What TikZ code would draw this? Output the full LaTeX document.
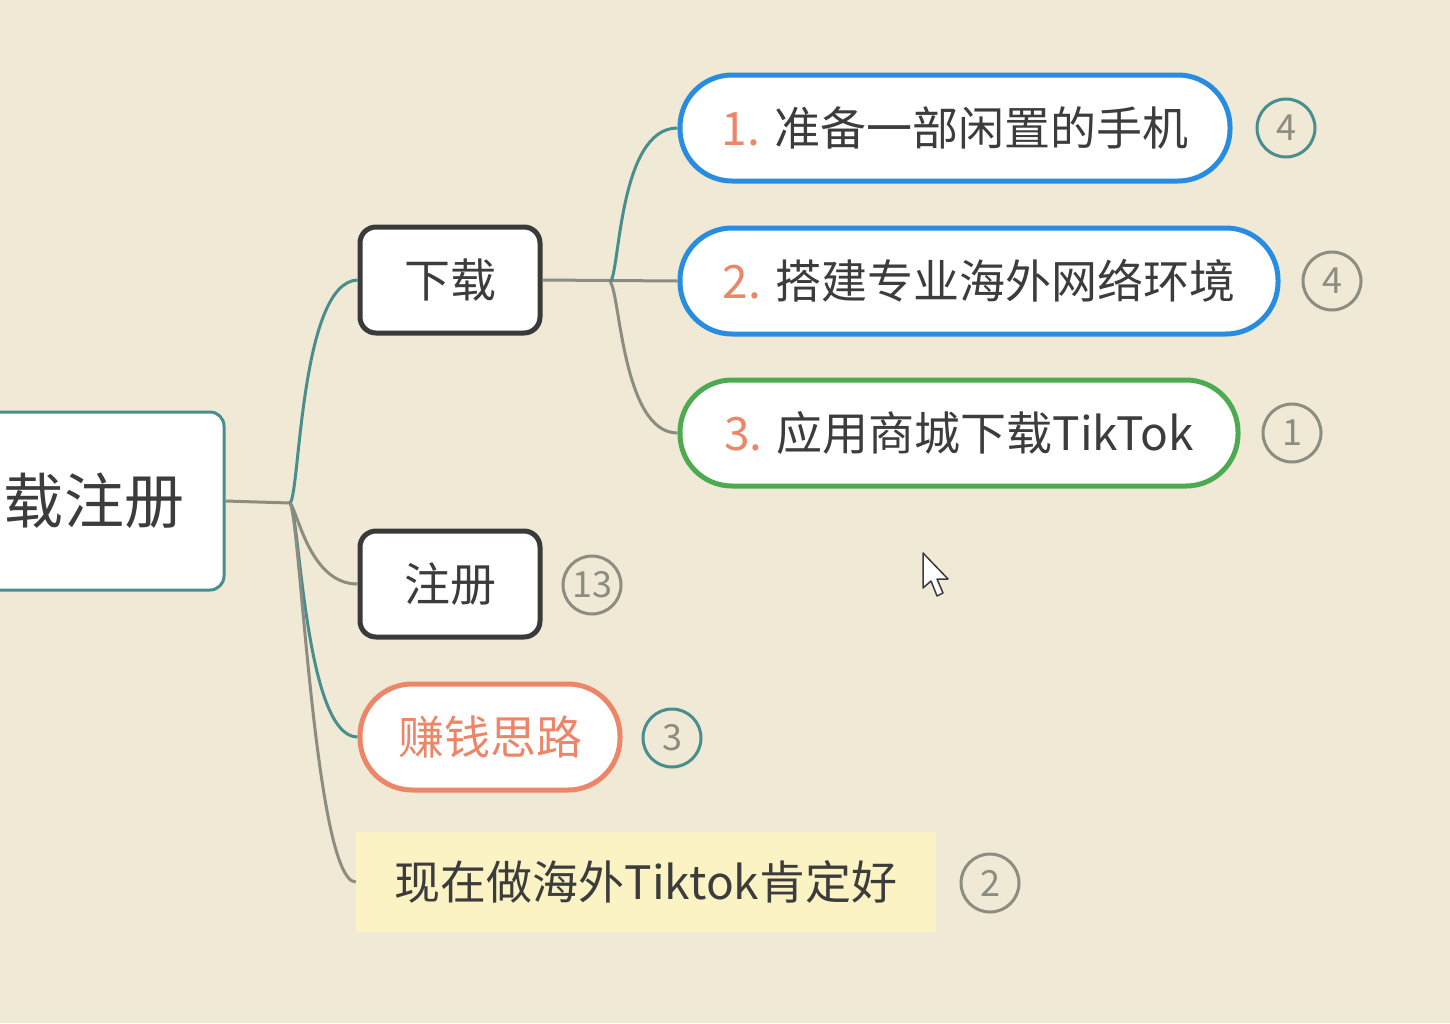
\documentclass[tikz,border=0pt]{standalone}
\usepackage{fontspec}
\setmainfont{Noto Sans CJK SC}
\definecolor{bgc}{RGB}{239,233,214}
\definecolor{tealc}{RGB}{72,142,142}
\definecolor{grayc}{RGB}{140,140,128}
\definecolor{darkc}{RGB}{58,58,58}
\definecolor{txtc}{RGB}{60,60,60}
\definecolor{bluec}{RGB}{40,140,224}
\definecolor{greenc}{RGB}{78,170,80}
\definecolor{orangec}{RGB}{236,134,104}
\definecolor{yellowc}{RGB}{251,243,196}
\tikzset{
  rootbox/.style={draw=tealc, line width=3pt, fill=white, rounded corners=14pt,
    inner sep=0pt, minimum width=280pt, minimum height=178pt, text=txtc,
    font=\fontsize{60}{60}\selectfont},
  darkbox/.style={draw=darkc, line width=5pt, fill=white, rounded corners=16pt,
    inner sep=0pt, minimum width=180pt, minimum height=106pt, text=txtc,
    font=\fontsize{46}{46}\selectfont},
  pillbox/.style={line width=5pt, fill=white, rounded corners=52pt,
    inner sep=0pt, minimum height=106pt, text=txtc,
    font=\fontsize{46}{46}\selectfont},
  notebox/.style={fill=yellowc, inner sep=0pt, minimum width=580pt, minimum height=100pt,
    text=txtc, font=\fontsize{46}{46}\selectfont},
  badge/.style={circle, draw=grayc, line width=3pt, minimum size=58pt, inner sep=0pt,
    text=grayc, font=\fontsize{36}{36}\selectfont},
  tealline/.style={draw=tealc, line width=3pt},
  grayline/.style={draw=grayc, line width=3pt},
}
\newcommand{\numlab}[1]{\textcolor{orangec}{#1}\hspace{14pt}}
\begin{document}
\begin{tikzpicture}[x=1pt,y=-1pt]
\useasboundingbox (0,0) rectangle (1450,1023);
\clip (0,0) rectangle (1450,1023);
\fill[bgc] (0,0) rectangle (1450,1023);

\coordinate (j1) at (290,503);
\coordinate (j2) at (610,282);

% nodes
\node[rootbox] (root) at (84,501) {\hspace{20pt}载注册};
\node[darkbox] (xz) at (450,280) {下载};
\node[darkbox] (zc) at (450,584) {注册};
\node[pillbox, draw=orangec, text=orangec, minimum width=260pt] (zq) at (490,737) {赚钱思路};
\node[notebox] (note) at (646,882) {现在做海外Tiktok肯定好};

\node[pillbox, draw=bluec, minimum width=550pt] (it1) at (955,128) {\numlab{1.}准备一部闲置的手机};
\node[pillbox, draw=bluec, minimum width=598pt] (it2) at (979,281) {\numlab{2.}搭建专业海外网络环境};
\node[pillbox, draw=greenc, minimum width=558pt] (it3) at (959,433) {\numlab{3.}应用商城下载TikTok};

\node[badge, draw=tealc] (b1) at (1286,128) {4};
\node[badge] (b2) at (1332,281) {4};
\node[badge] (b3) at (1292,433) {1};
\node[badge] (b4) at (592,585) {13};
\node[badge, draw=tealc] (b5) at (672,738) {3};
\node[badge] (b6) at (990,883) {2};

% edges
\draw[grayline] (root.east) -- (j1);
\draw[tealline] (j1) .. controls (300,495) and (300,282) .. (xz.west);
\draw[grayline] (j1) .. controls (298,512) and (310,584) .. (zc.west);
\draw[tealline] (j1) .. controls (300,515) and (305,737) .. (zq.west);
\draw[grayline] (j1) .. controls (300,515) and (315,882) .. (note.west);

\draw[grayline] (xz.east) -- (it2.west);
\draw[tealline] (j2) .. controls (620,276) and (618,128) .. (it1.west);
\draw[grayline] (j2) .. controls (620,290) and (622,433) .. (it3.west);

% mouse cursor
\draw[darkc, line width=1.5pt, fill=white, line join=round]
  (923,553) -- (923,588) -- (931,581) -- (937,596) -- (943,593) -- (937,579) -- (948,579) -- cycle;
\end{tikzpicture}
\end{document}
